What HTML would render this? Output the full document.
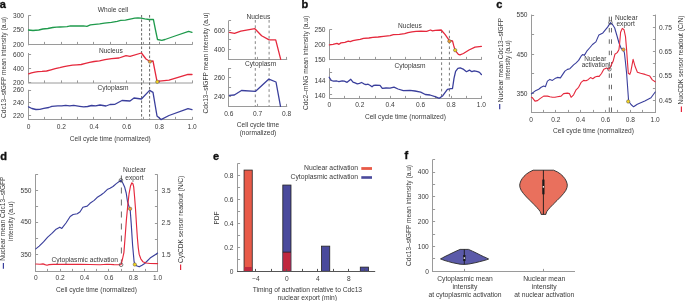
<!DOCTYPE html>
<html><head><meta charset="utf-8"><style>
html,body{margin:0;padding:0;background:#fff;}
body{width:685px;height:301px;overflow:hidden;}
svg{display:block;font-family:"Liberation Sans",sans-serif;will-change:transform;}
</style></head><body>
<svg width="685" height="301" viewBox="0 0 685 301">
<rect width="685" height="301" fill="#fff"/>
<text x="-0.30" y="7.60" text-anchor="start" font-size="11" font-weight="bold" fill="#111" stroke="#111" stroke-width="0.35">a</text>
<line x1="28.50" y1="15.30" x2="28.50" y2="45.30" stroke="#9a9a9a" stroke-width="1"/>
<line x1="28.50" y1="15.50" x2="31.10" y2="15.50" stroke="#9a9a9a" stroke-width="1"/>
<line x1="28.50" y1="30.50" x2="31.10" y2="30.50" stroke="#9a9a9a" stroke-width="1"/>
<line x1="28.50" y1="44.50" x2="31.10" y2="44.50" stroke="#9a9a9a" stroke-width="1"/>
<text x="24.00" y="17.65" text-anchor="end" font-size="6.6" fill="#3a3a3a">300</text>
<text x="24.00" y="32.35" text-anchor="end" font-size="6.6" fill="#3a3a3a">250</text>
<text x="24.00" y="47.15" text-anchor="end" font-size="6.6" fill="#3a3a3a">200</text>
<line x1="28.00" y1="44.50" x2="192.70" y2="44.50" stroke="#9a9a9a" stroke-width="1"/>
<line x1="28.50" y1="44.50" x2="28.50" y2="41.90" stroke="#9a9a9a" stroke-width="1"/>
<line x1="44.50" y1="44.50" x2="44.50" y2="41.90" stroke="#9a9a9a" stroke-width="1"/>
<line x1="61.50" y1="44.50" x2="61.50" y2="41.90" stroke="#9a9a9a" stroke-width="1"/>
<line x1="77.50" y1="44.50" x2="77.50" y2="41.90" stroke="#9a9a9a" stroke-width="1"/>
<line x1="93.50" y1="44.50" x2="93.50" y2="41.90" stroke="#9a9a9a" stroke-width="1"/>
<line x1="110.50" y1="44.50" x2="110.50" y2="41.90" stroke="#9a9a9a" stroke-width="1"/>
<line x1="126.50" y1="44.50" x2="126.50" y2="41.90" stroke="#9a9a9a" stroke-width="1"/>
<line x1="143.50" y1="44.50" x2="143.50" y2="41.90" stroke="#9a9a9a" stroke-width="1"/>
<line x1="159.50" y1="44.50" x2="159.50" y2="41.90" stroke="#9a9a9a" stroke-width="1"/>
<line x1="175.50" y1="44.50" x2="175.50" y2="41.90" stroke="#9a9a9a" stroke-width="1"/>
<line x1="192.50" y1="44.50" x2="192.50" y2="41.90" stroke="#9a9a9a" stroke-width="1"/>
<line x1="28.50" y1="53.00" x2="28.50" y2="83.10" stroke="#9a9a9a" stroke-width="1"/>
<line x1="28.50" y1="54.50" x2="31.10" y2="54.50" stroke="#9a9a9a" stroke-width="1"/>
<line x1="28.50" y1="68.50" x2="31.10" y2="68.50" stroke="#9a9a9a" stroke-width="1"/>
<line x1="28.50" y1="82.50" x2="31.10" y2="82.50" stroke="#9a9a9a" stroke-width="1"/>
<text x="24.00" y="56.65" text-anchor="end" font-size="6.6" fill="#3a3a3a">600</text>
<text x="24.00" y="70.75" text-anchor="end" font-size="6.6" fill="#3a3a3a">400</text>
<text x="24.00" y="84.75" text-anchor="end" font-size="6.6" fill="#3a3a3a">200</text>
<line x1="28.00" y1="83.00" x2="192.70" y2="83.00" stroke="#9a9a9a" stroke-width="1"/>
<line x1="28.50" y1="83.00" x2="28.50" y2="80.40" stroke="#9a9a9a" stroke-width="1"/>
<line x1="44.50" y1="83.00" x2="44.50" y2="80.40" stroke="#9a9a9a" stroke-width="1"/>
<line x1="61.50" y1="83.00" x2="61.50" y2="80.40" stroke="#9a9a9a" stroke-width="1"/>
<line x1="77.50" y1="83.00" x2="77.50" y2="80.40" stroke="#9a9a9a" stroke-width="1"/>
<line x1="93.50" y1="83.00" x2="93.50" y2="80.40" stroke="#9a9a9a" stroke-width="1"/>
<line x1="110.50" y1="83.00" x2="110.50" y2="80.40" stroke="#9a9a9a" stroke-width="1"/>
<line x1="126.50" y1="83.00" x2="126.50" y2="80.40" stroke="#9a9a9a" stroke-width="1"/>
<line x1="143.50" y1="83.00" x2="143.50" y2="80.40" stroke="#9a9a9a" stroke-width="1"/>
<line x1="159.50" y1="83.00" x2="159.50" y2="80.40" stroke="#9a9a9a" stroke-width="1"/>
<line x1="175.50" y1="83.00" x2="175.50" y2="80.40" stroke="#9a9a9a" stroke-width="1"/>
<line x1="192.50" y1="83.00" x2="192.50" y2="80.40" stroke="#9a9a9a" stroke-width="1"/>
<line x1="28.50" y1="89.80" x2="28.50" y2="119.80" stroke="#9a9a9a" stroke-width="1"/>
<line x1="28.50" y1="90.50" x2="31.10" y2="90.50" stroke="#9a9a9a" stroke-width="1"/>
<line x1="28.50" y1="102.50" x2="31.10" y2="102.50" stroke="#9a9a9a" stroke-width="1"/>
<line x1="28.50" y1="115.50" x2="31.10" y2="115.50" stroke="#9a9a9a" stroke-width="1"/>
<text x="24.00" y="92.35" text-anchor="end" font-size="6.6" fill="#3a3a3a">260</text>
<text x="24.00" y="104.95" text-anchor="end" font-size="6.6" fill="#3a3a3a">240</text>
<text x="24.00" y="117.65" text-anchor="end" font-size="6.6" fill="#3a3a3a">220</text>
<line x1="28.00" y1="119.50" x2="192.70" y2="119.50" stroke="#9a9a9a" stroke-width="1"/>
<line x1="28.50" y1="119.50" x2="28.50" y2="116.90" stroke="#9a9a9a" stroke-width="1"/>
<line x1="44.50" y1="119.50" x2="44.50" y2="116.90" stroke="#9a9a9a" stroke-width="1"/>
<line x1="61.50" y1="119.50" x2="61.50" y2="116.90" stroke="#9a9a9a" stroke-width="1"/>
<line x1="77.50" y1="119.50" x2="77.50" y2="116.90" stroke="#9a9a9a" stroke-width="1"/>
<line x1="93.50" y1="119.50" x2="93.50" y2="116.90" stroke="#9a9a9a" stroke-width="1"/>
<line x1="110.50" y1="119.50" x2="110.50" y2="116.90" stroke="#9a9a9a" stroke-width="1"/>
<line x1="126.50" y1="119.50" x2="126.50" y2="116.90" stroke="#9a9a9a" stroke-width="1"/>
<line x1="143.50" y1="119.50" x2="143.50" y2="116.90" stroke="#9a9a9a" stroke-width="1"/>
<line x1="159.50" y1="119.50" x2="159.50" y2="116.90" stroke="#9a9a9a" stroke-width="1"/>
<line x1="175.50" y1="119.50" x2="175.50" y2="116.90" stroke="#9a9a9a" stroke-width="1"/>
<line x1="192.50" y1="119.50" x2="192.50" y2="116.90" stroke="#9a9a9a" stroke-width="1"/>
<text x="28.50" y="129.00" text-anchor="middle" font-size="6.6" fill="#3a3a3a">0</text>
<text x="61.24" y="129.00" text-anchor="middle" font-size="6.6" fill="#3a3a3a">0.2</text>
<text x="93.98" y="129.00" text-anchor="middle" font-size="6.6" fill="#3a3a3a">0.4</text>
<text x="126.72" y="129.00" text-anchor="middle" font-size="6.6" fill="#3a3a3a">0.6</text>
<text x="159.46" y="129.00" text-anchor="middle" font-size="6.6" fill="#3a3a3a">0.8</text>
<text x="192.20" y="129.00" text-anchor="middle" font-size="6.6" fill="#3a3a3a">1.0</text>
<text x="110.30" y="140.70" text-anchor="middle" font-size="6.6" fill="#3a3a3a">Cell cycle time (normalized)</text>
<text x="113.00" y="12.00" text-anchor="middle" font-size="6.6" fill="#3a3a3a">Whole cell</text>
<text x="110.80" y="52.60" text-anchor="middle" font-size="6.6" fill="#3a3a3a">Nucleus</text>
<text x="113.00" y="90.30" text-anchor="middle" font-size="6.6" fill="#3a3a3a">Cytoplasm</text>
<text x="6.20" y="67.50" text-anchor="middle" font-size="6.6" fill="#3a3a3a" transform="rotate(-90 6.20 67.50)">Cdc13–sfGFP mean intensity (a.u)</text>
<line x1="141.60" y1="15.00" x2="141.60" y2="119.30" stroke="#444" stroke-width="0.8" stroke-dasharray="2.6 1.9"/>
<line x1="149.60" y1="15.00" x2="149.60" y2="119.30" stroke="#444" stroke-width="0.8" stroke-dasharray="2.6 1.9"/>
<polyline points="28.5,30.0 33.0,30.5 38.8,30.0 42.8,29.0 47.8,28.5 52.8,27.5 56.5,27.2 60.0,27.0 67.0,26.6 70.5,25.8 77.5,26.0 83.4,25.8 86.9,26.4 90.4,24.9 95.0,24.4 99.7,23.9 104.4,23.1 111.4,22.3 117.2,21.3 120.7,20.4 125.4,20.2 130.1,19.2 134.8,18.1 138.0,17.8 141.0,18.1 144.8,18.9 149.0,19.5 153.4,19.5 155.5,30.0 157.5,39.5 161.8,40.4 165.0,39.5 175.0,36.0 188.6,31.3 192.0,32.3" fill="none" stroke="#1f9a4c" stroke-width="1.3" stroke-linejoin="round" stroke-linecap="round"/>
<polyline points="28.6,73.8 31.5,72.8 34.9,72.1 38.0,71.6 42.0,71.4 46.6,71.0 51.0,69.8 55.2,68.6 59.8,67.6 63.9,66.6 68.0,65.8 72.5,65.1 77.0,64.8 81.2,64.5 85.5,63.4 89.6,62.4 94.1,61.5 99.5,60.8 105.0,59.7 111.6,58.7 119.0,58.0 126.0,55.6 130.0,56.3 141.4,53.0 146.0,59.0 150.0,61.5 153.0,61.0 157.0,81.4 169.0,80.2 188.0,74.3 192.0,74.5" fill="none" stroke="#e5283c" stroke-width="1.3" stroke-linejoin="round" stroke-linecap="round"/>
<polyline points="28.5,106.9 31.9,108.5 35.9,109.5 39.8,109.3 43.8,108.3 48.8,107.5 51.8,106.3 57.8,105.9 61.8,105.9 65.7,105.3 69.7,105.9 73.7,105.3 79.7,106.3 83.7,106.9 87.6,106.5 91.6,105.5 95.6,105.9 100.0,105.0 106.0,106.0 110.0,104.5 115.0,104.3 122.0,100.5 130.0,101.0 134.0,98.0 141.4,99.0 149.6,90.4 153.0,92.4 157.0,116.0 161.0,119.6 169.0,115.5 188.0,108.6 192.0,109.6" fill="none" stroke="#3a3f9c" stroke-width="1.3" stroke-linejoin="round" stroke-linecap="round"/>
<circle cx="149.9" cy="61.6" r="1.7" fill="#f0a030" stroke="#555" stroke-width="0.5"/>
<circle cx="157.3" cy="81.8" r="1.7" fill="#f2d21e" stroke="#555" stroke-width="0.5"/>
<line x1="228.50" y1="20.80" x2="228.50" y2="59.90" stroke="#9a9a9a" stroke-width="1"/>
<line x1="228.50" y1="20.50" x2="231.10" y2="20.50" stroke="#9a9a9a" stroke-width="1"/>
<line x1="228.50" y1="30.50" x2="231.10" y2="30.50" stroke="#9a9a9a" stroke-width="1"/>
<line x1="228.50" y1="39.50" x2="231.10" y2="39.50" stroke="#9a9a9a" stroke-width="1"/>
<line x1="228.50" y1="49.50" x2="231.10" y2="49.50" stroke="#9a9a9a" stroke-width="1"/>
<text x="225.00" y="32.95" text-anchor="end" font-size="6.6" fill="#3a3a3a">600</text>
<text x="225.00" y="51.95" text-anchor="end" font-size="6.6" fill="#3a3a3a">400</text>
<line x1="228.00" y1="59.50" x2="287.20" y2="59.50" stroke="#9a9a9a" stroke-width="1"/>
<line x1="228.50" y1="59.50" x2="228.50" y2="56.90" stroke="#9a9a9a" stroke-width="1"/>
<line x1="257.50" y1="59.50" x2="257.50" y2="56.90" stroke="#9a9a9a" stroke-width="1"/>
<line x1="286.50" y1="59.50" x2="286.50" y2="56.90" stroke="#9a9a9a" stroke-width="1"/>
<line x1="228.50" y1="68.00" x2="228.50" y2="106.70" stroke="#9a9a9a" stroke-width="1"/>
<line x1="228.50" y1="68.50" x2="231.10" y2="68.50" stroke="#9a9a9a" stroke-width="1"/>
<line x1="228.50" y1="77.50" x2="231.10" y2="77.50" stroke="#9a9a9a" stroke-width="1"/>
<line x1="228.50" y1="87.50" x2="231.10" y2="87.50" stroke="#9a9a9a" stroke-width="1"/>
<line x1="228.50" y1="96.50" x2="231.10" y2="96.50" stroke="#9a9a9a" stroke-width="1"/>
<text x="225.00" y="79.95" text-anchor="end" font-size="6.6" fill="#3a3a3a">260</text>
<text x="225.00" y="99.25" text-anchor="end" font-size="6.6" fill="#3a3a3a">240</text>
<line x1="228.00" y1="106.50" x2="287.20" y2="106.50" stroke="#9a9a9a" stroke-width="1"/>
<line x1="228.50" y1="106.50" x2="228.50" y2="103.90" stroke="#9a9a9a" stroke-width="1"/>
<line x1="257.50" y1="106.50" x2="257.50" y2="103.90" stroke="#9a9a9a" stroke-width="1"/>
<line x1="286.50" y1="106.50" x2="286.50" y2="103.90" stroke="#9a9a9a" stroke-width="1"/>
<text x="228.80" y="116.30" text-anchor="middle" font-size="6.6" fill="#3a3a3a">0.6</text>
<text x="257.70" y="116.30" text-anchor="middle" font-size="6.6" fill="#3a3a3a">0.7</text>
<text x="286.70" y="116.30" text-anchor="middle" font-size="6.6" fill="#3a3a3a">0.8</text>
<text x="258.30" y="18.60" text-anchor="middle" font-size="6.6" fill="#3a3a3a">Nucleus</text>
<text x="260.60" y="66.30" text-anchor="middle" font-size="6.6" fill="#3a3a3a">Cytoplasm</text>
<text x="258.00" y="127.40" text-anchor="middle" font-size="6.6" fill="#3a3a3a">Cell cycle time</text>
<text x="258.00" y="135.00" text-anchor="middle" font-size="6.6" fill="#3a3a3a">(normalized)</text>
<text x="207.80" y="63.00" text-anchor="middle" font-size="6.6" fill="#3a3a3a" transform="rotate(-90 207.80 63.00)">Cdc13–sfGFP mean intensity (a.u)</text>
<line x1="255.30" y1="20.00" x2="255.30" y2="59.30" stroke="#666" stroke-width="0.8" stroke-dasharray="2.7 2.6"/>
<line x1="255.30" y1="68.00" x2="255.30" y2="106.30" stroke="#666" stroke-width="0.8" stroke-dasharray="2.7 2.6"/>
<line x1="269.10" y1="20.00" x2="269.10" y2="59.30" stroke="#666" stroke-width="0.8" stroke-dasharray="2.7 2.6"/>
<line x1="269.10" y1="68.00" x2="269.10" y2="106.30" stroke="#666" stroke-width="0.8" stroke-dasharray="2.7 2.6"/>
<polyline points="229.4,32.4 234.5,33.4 240.8,31.2 254.9,28.7 261.6,35.8 269.1,39.9 275.7,39.9 280.7,59.3" fill="none" stroke="#e5283c" stroke-width="1.3" stroke-linejoin="round" stroke-linecap="round"/>
<polyline points="229.4,95.3 234.3,95.0 241.5,90.5 255.6,91.3 268.9,79.1 276.0,82.0 280.5,106.3" fill="none" stroke="#3a3f9c" stroke-width="1.3" stroke-linejoin="round" stroke-linecap="round"/>
<text x="301.60" y="7.60" text-anchor="start" font-size="11" font-weight="bold" fill="#111" stroke="#111" stroke-width="0.35">b</text>
<line x1="329.50" y1="29.50" x2="329.50" y2="60.10" stroke="#9a9a9a" stroke-width="1"/>
<line x1="329.50" y1="29.50" x2="332.10" y2="29.50" stroke="#9a9a9a" stroke-width="1"/>
<line x1="329.50" y1="44.50" x2="332.10" y2="44.50" stroke="#9a9a9a" stroke-width="1"/>
<line x1="329.50" y1="59.50" x2="332.10" y2="59.50" stroke="#9a9a9a" stroke-width="1"/>
<text x="325.50" y="31.85" text-anchor="end" font-size="6.6" fill="#3a3a3a">250</text>
<text x="325.50" y="46.75" text-anchor="end" font-size="6.6" fill="#3a3a3a">200</text>
<text x="325.50" y="61.95" text-anchor="end" font-size="6.6" fill="#3a3a3a">150</text>
<line x1="329.00" y1="59.50" x2="481.90" y2="59.50" stroke="#9a9a9a" stroke-width="1"/>
<line x1="329.50" y1="59.50" x2="329.50" y2="56.90" stroke="#9a9a9a" stroke-width="1"/>
<line x1="344.50" y1="59.50" x2="344.50" y2="56.90" stroke="#9a9a9a" stroke-width="1"/>
<line x1="359.50" y1="59.50" x2="359.50" y2="56.90" stroke="#9a9a9a" stroke-width="1"/>
<line x1="375.50" y1="59.50" x2="375.50" y2="56.90" stroke="#9a9a9a" stroke-width="1"/>
<line x1="390.50" y1="59.50" x2="390.50" y2="56.90" stroke="#9a9a9a" stroke-width="1"/>
<line x1="405.50" y1="59.50" x2="405.50" y2="56.90" stroke="#9a9a9a" stroke-width="1"/>
<line x1="420.50" y1="59.50" x2="420.50" y2="56.90" stroke="#9a9a9a" stroke-width="1"/>
<line x1="435.50" y1="59.50" x2="435.50" y2="56.90" stroke="#9a9a9a" stroke-width="1"/>
<line x1="451.50" y1="59.50" x2="451.50" y2="56.90" stroke="#9a9a9a" stroke-width="1"/>
<line x1="466.50" y1="59.50" x2="466.50" y2="56.90" stroke="#9a9a9a" stroke-width="1"/>
<line x1="481.50" y1="59.50" x2="481.50" y2="56.90" stroke="#9a9a9a" stroke-width="1"/>
<line x1="329.50" y1="68.20" x2="329.50" y2="99.00" stroke="#9a9a9a" stroke-width="1"/>
<line x1="329.50" y1="72.50" x2="332.10" y2="72.50" stroke="#9a9a9a" stroke-width="1"/>
<line x1="329.50" y1="80.50" x2="332.10" y2="80.50" stroke="#9a9a9a" stroke-width="1"/>
<line x1="329.50" y1="87.50" x2="332.10" y2="87.50" stroke="#9a9a9a" stroke-width="1"/>
<line x1="329.50" y1="94.50" x2="332.10" y2="94.50" stroke="#9a9a9a" stroke-width="1"/>
<text x="325.50" y="83.05" text-anchor="end" font-size="6.6" fill="#3a3a3a">144</text>
<text x="325.50" y="97.85" text-anchor="end" font-size="6.6" fill="#3a3a3a">140</text>
<line x1="329.00" y1="98.50" x2="481.90" y2="98.50" stroke="#9a9a9a" stroke-width="1"/>
<line x1="329.50" y1="98.50" x2="329.50" y2="95.90" stroke="#9a9a9a" stroke-width="1"/>
<line x1="344.50" y1="98.50" x2="344.50" y2="95.90" stroke="#9a9a9a" stroke-width="1"/>
<line x1="359.50" y1="98.50" x2="359.50" y2="95.90" stroke="#9a9a9a" stroke-width="1"/>
<line x1="375.50" y1="98.50" x2="375.50" y2="95.90" stroke="#9a9a9a" stroke-width="1"/>
<line x1="390.50" y1="98.50" x2="390.50" y2="95.90" stroke="#9a9a9a" stroke-width="1"/>
<line x1="405.50" y1="98.50" x2="405.50" y2="95.90" stroke="#9a9a9a" stroke-width="1"/>
<line x1="420.50" y1="98.50" x2="420.50" y2="95.90" stroke="#9a9a9a" stroke-width="1"/>
<line x1="435.50" y1="98.50" x2="435.50" y2="95.90" stroke="#9a9a9a" stroke-width="1"/>
<line x1="451.50" y1="98.50" x2="451.50" y2="95.90" stroke="#9a9a9a" stroke-width="1"/>
<line x1="466.50" y1="98.50" x2="466.50" y2="95.90" stroke="#9a9a9a" stroke-width="1"/>
<line x1="481.50" y1="98.50" x2="481.50" y2="95.90" stroke="#9a9a9a" stroke-width="1"/>
<text x="329.40" y="107.00" text-anchor="middle" font-size="6.6" fill="#3a3a3a">0</text>
<text x="359.80" y="107.00" text-anchor="middle" font-size="6.6" fill="#3a3a3a">0.2</text>
<text x="390.20" y="107.00" text-anchor="middle" font-size="6.6" fill="#3a3a3a">0.4</text>
<text x="420.60" y="107.00" text-anchor="middle" font-size="6.6" fill="#3a3a3a">0.6</text>
<text x="451.00" y="107.00" text-anchor="middle" font-size="6.6" fill="#3a3a3a">0.8</text>
<text x="481.40" y="107.00" text-anchor="middle" font-size="6.6" fill="#3a3a3a">1.0</text>
<text x="405.40" y="118.70" text-anchor="middle" font-size="6.6" fill="#3a3a3a">Cell cycle time (normalized)</text>
<text x="409.90" y="28.20" text-anchor="middle" font-size="6.6" fill="#3a3a3a">Nucleus</text>
<text x="410.00" y="67.90" text-anchor="middle" font-size="6.6" fill="#3a3a3a">Cytoplasm</text>
<text x="308.20" y="63.00" text-anchor="middle" font-size="6.6" fill="#3a3a3a" transform="rotate(-90 308.20 63.00)">Cdc2–mNG mean intensity (a.u)</text>
<line x1="441.60" y1="30.50" x2="441.60" y2="98.50" stroke="#555" stroke-width="0.8" stroke-dasharray="2.6 2.7"/>
<line x1="449.40" y1="30.50" x2="449.40" y2="98.50" stroke="#555" stroke-width="0.8" stroke-dasharray="2.6 2.7"/>
<polyline points="329.4,44.9 333.0,44.3 337.0,43.3 339.0,44.3 341.0,42.9 344.9,42.3 348.3,41.2 350.2,41.6 352.9,40.7 356.9,39.9 360.2,39.4 363.5,38.3 368.9,38.0 372.8,37.4 378.2,37.0 383.5,36.4 390.1,35.6 393.4,34.6 399.4,34.3 404.7,33.6 408.0,32.6 412.0,31.9 416.0,31.3 421.0,31.2 426.6,31.3 430.5,30.0 432.5,30.9 435.2,30.4 441.2,30.0 445.2,34.6 448.5,39.3 449.5,41.0 451.1,40.6 452.5,40.8 453.8,45.9 455.1,50.3 458.4,54.3 460.0,54.8 463.4,53.5 469.0,50.0 475.0,47.2 481.4,46.3" fill="none" stroke="#e5283c" stroke-width="1.3" stroke-linejoin="round" stroke-linecap="round"/>
<polyline points="329.2,77.3 331.4,80.5 333.5,81.2 336.8,81.0 338.9,81.6 342.2,80.8 344.3,81.2 347.1,82.3 349.3,80.5 350.8,79.3 353.0,82.1 355.1,82.9 357.3,83.8 359.5,83.4 361.6,82.5 363.8,83.8 365.9,84.6 368.1,84.2 370.3,85.5 372.0,86.8 373.5,85.5 375.7,85.1 380.0,85.3 382.3,88.3 386.0,88.0 390.0,88.2 394.0,87.1 398.0,89.0 403.3,90.6 410.0,90.4 415.0,91.0 420.7,92.2 425.3,94.5 430.0,95.0 435.8,96.9 439.3,98.3 442.8,95.7 447.4,89.4 450.9,88.7 452.5,88.5 454.0,78.3 455.6,71.3 457.9,68.3 460.2,67.8 463.7,69.4 466.5,71.7 469.5,70.1 471.9,71.7 474.2,70.8 477.7,71.7 479.5,72.4 481.4,74.5" fill="none" stroke="#3a3f9c" stroke-width="1.3" stroke-linejoin="round" stroke-linecap="round"/>
<circle cx="449.4" cy="41.2" r="1.7" fill="#f0a030" stroke="#555" stroke-width="0.5"/>
<circle cx="455.2" cy="50.2" r="1.7" fill="#f2d21e" stroke="#555" stroke-width="0.5"/>
<text x="496.30" y="7.60" text-anchor="start" font-size="11" font-weight="bold" fill="#111" stroke="#111" stroke-width="0.35">c</text>
<line x1="531.50" y1="14.60" x2="531.50" y2="112.80" stroke="#9a9a9a" stroke-width="1"/>
<line x1="531.50" y1="15.50" x2="534.10" y2="15.50" stroke="#9a9a9a" stroke-width="1"/>
<line x1="531.50" y1="34.50" x2="534.10" y2="34.50" stroke="#9a9a9a" stroke-width="1"/>
<line x1="531.50" y1="54.50" x2="534.10" y2="54.50" stroke="#9a9a9a" stroke-width="1"/>
<line x1="531.50" y1="73.50" x2="534.10" y2="73.50" stroke="#9a9a9a" stroke-width="1"/>
<line x1="531.50" y1="93.50" x2="534.10" y2="93.50" stroke="#9a9a9a" stroke-width="1"/>
<text x="527.50" y="17.45" text-anchor="end" font-size="6.6" fill="#3a3a3a">550</text>
<text x="527.50" y="56.55" text-anchor="end" font-size="6.6" fill="#3a3a3a">450</text>
<text x="527.50" y="95.55" text-anchor="end" font-size="6.6" fill="#3a3a3a">350</text>
<line x1="655.50" y1="14.60" x2="655.50" y2="112.80" stroke="#9a9a9a" stroke-width="1"/>
<line x1="652.90" y1="15.50" x2="655.50" y2="15.50" stroke="#9a9a9a" stroke-width="1"/>
<line x1="652.90" y1="27.50" x2="655.50" y2="27.50" stroke="#9a9a9a" stroke-width="1"/>
<line x1="652.90" y1="39.50" x2="655.50" y2="39.50" stroke="#9a9a9a" stroke-width="1"/>
<line x1="652.90" y1="51.50" x2="655.50" y2="51.50" stroke="#9a9a9a" stroke-width="1"/>
<line x1="652.90" y1="63.50" x2="655.50" y2="63.50" stroke="#9a9a9a" stroke-width="1"/>
<line x1="652.90" y1="76.50" x2="655.50" y2="76.50" stroke="#9a9a9a" stroke-width="1"/>
<line x1="652.90" y1="88.50" x2="655.50" y2="88.50" stroke="#9a9a9a" stroke-width="1"/>
<line x1="652.90" y1="100.50" x2="655.50" y2="100.50" stroke="#9a9a9a" stroke-width="1"/>
<text x="659.00" y="29.65" text-anchor="start" font-size="6.6" fill="#3a3a3a">0.75</text>
<text x="659.00" y="53.95" text-anchor="start" font-size="6.6" fill="#3a3a3a">0.65</text>
<text x="659.00" y="78.35" text-anchor="start" font-size="6.6" fill="#3a3a3a">0.55</text>
<text x="659.00" y="102.75" text-anchor="start" font-size="6.6" fill="#3a3a3a">0.45</text>
<line x1="531.00" y1="112.50" x2="655.70" y2="112.50" stroke="#9a9a9a" stroke-width="1"/>
<line x1="531.50" y1="112.50" x2="531.50" y2="109.90" stroke="#9a9a9a" stroke-width="1"/>
<line x1="543.50" y1="112.50" x2="543.50" y2="109.90" stroke="#9a9a9a" stroke-width="1"/>
<line x1="555.50" y1="112.50" x2="555.50" y2="109.90" stroke="#9a9a9a" stroke-width="1"/>
<line x1="568.50" y1="112.50" x2="568.50" y2="109.90" stroke="#9a9a9a" stroke-width="1"/>
<line x1="580.50" y1="112.50" x2="580.50" y2="109.90" stroke="#9a9a9a" stroke-width="1"/>
<line x1="593.50" y1="112.50" x2="593.50" y2="109.90" stroke="#9a9a9a" stroke-width="1"/>
<line x1="605.50" y1="112.50" x2="605.50" y2="109.90" stroke="#9a9a9a" stroke-width="1"/>
<line x1="617.50" y1="112.50" x2="617.50" y2="109.90" stroke="#9a9a9a" stroke-width="1"/>
<line x1="630.50" y1="112.50" x2="630.50" y2="109.90" stroke="#9a9a9a" stroke-width="1"/>
<line x1="642.50" y1="112.50" x2="642.50" y2="109.90" stroke="#9a9a9a" stroke-width="1"/>
<line x1="655.50" y1="112.50" x2="655.50" y2="109.90" stroke="#9a9a9a" stroke-width="1"/>
<text x="531.00" y="121.90" text-anchor="middle" font-size="6.6" fill="#3a3a3a">0</text>
<text x="555.84" y="121.90" text-anchor="middle" font-size="6.6" fill="#3a3a3a">0.2</text>
<text x="580.68" y="121.90" text-anchor="middle" font-size="6.6" fill="#3a3a3a">0.4</text>
<text x="605.52" y="121.90" text-anchor="middle" font-size="6.6" fill="#3a3a3a">0.6</text>
<text x="630.36" y="121.90" text-anchor="middle" font-size="6.6" fill="#3a3a3a">0.8</text>
<text x="655.20" y="121.90" text-anchor="middle" font-size="6.6" fill="#3a3a3a">1.0</text>
<text x="593.50" y="133.00" text-anchor="middle" font-size="6.6" fill="#3a3a3a">Cell cycle time (normalized)</text>
<text x="502.60" y="60.00" text-anchor="middle" font-size="6.6" fill="#3a3a3a" transform="rotate(-90 502.60 60.00)">Nuclear mean Cdc13–sfGFP</text>
<text x="510.40" y="60.00" text-anchor="middle" font-size="6.6" fill="#3a3a3a" transform="rotate(-90 510.40 60.00)">intensity (a.u)</text>
<text x="683.20" y="60.00" text-anchor="middle" font-size="6.6" fill="#3a3a3a" transform="rotate(-90 683.20 60.00)">NucCDK sensor readout (C/N)</text>
<line x1="681.40" y1="106.60" x2="681.40" y2="112.00" stroke="#e5283c" stroke-width="1.2"/>
<line x1="499.70" y1="103.90" x2="499.70" y2="109.20" stroke="#3a3f9c" stroke-width="1.2"/>
<line x1="609.30" y1="16.60" x2="609.30" y2="112.30" stroke="#444" stroke-width="0.8" stroke-dasharray="4.5 6.86"/>
<line x1="611.50" y1="16.60" x2="611.50" y2="112.30" stroke="#444" stroke-width="0.8" stroke-dasharray="4.5 6.86"/>
<polyline points="531.4,93.8 535.0,91.1 538.7,89.3 541.2,87.3 543.7,86.1 545.4,86.8 547.4,81.1 549.9,79.4 552.4,80.4 554.9,78.6 557.4,77.4 560.4,77.9 562.4,74.9 564.9,71.1 567.4,69.4 569.9,68.7 573.6,64.9 576.1,62.9 578.6,60.4 581.1,56.2 582.8,54.5 584.3,55.4 586.8,51.2 590.0,47.5 592.5,44.5 595.9,41.9 598.9,34.9 602.9,32.9 607.8,26.9 610.4,22.6 612.5,24.5 614.7,28.0 616.9,35.5 619.0,43.0 621.2,48.5 623.4,49.6 624.4,52.8 625.5,62.5 626.6,73.3 628.6,101.0 631.0,104.5 633.6,106.8 637.3,104.3 644.8,101.0 651.0,97.8 655.2,92.0" fill="none" stroke="#3a3f9c" stroke-width="1.1" stroke-linejoin="round" stroke-linecap="round"/>
<polyline points="531.4,97.3 532.5,97.8 535.0,101.1 537.5,100.6 540.0,98.6 543.7,96.1 547.4,96.1 549.9,96.8 552.4,97.3 554.9,97.3 557.4,96.8 561.1,96.1 563.6,93.6 567.4,93.1 569.4,93.6 571.1,97.3 573.6,94.8 576.1,89.8 578.6,87.3 581.1,82.4 583.6,80.4 586.0,80.8 588.1,79.7 590.5,77.6 592.8,78.7 595.1,77.0 597.4,76.2 599.2,76.4 601.5,73.5 603.8,69.2 606.7,68.0 609.1,69.2 610.8,65.9 613.1,61.3 614.9,54.3 617.2,52.6 618.9,49.7 619.5,45.0 620.6,32.3 622.3,28.4 624.0,29.7 625.5,36.6 626.6,49.6 627.5,62.5 628.3,73.3 629.8,74.4 630.9,71.2 633.1,59.3 635.2,66.8 637.4,72.2 640.6,73.3 645.0,74.4 649.8,76.1 652.3,79.9 655.2,81.8" fill="none" stroke="#e5283c" stroke-width="1.1" stroke-linejoin="round" stroke-linecap="round"/>
<circle cx="610.4" cy="22.6" r="1.8" fill="none" stroke="#444" stroke-width="0.7"/>
<circle cx="609.4" cy="69.2" r="1.8" fill="none" stroke="#444" stroke-width="0.7"/>
<circle cx="623.4" cy="49.6" r="1.7" fill="#f0a030" stroke="#555" stroke-width="0.5"/>
<circle cx="628.2" cy="101.5" r="1.7" fill="#f2d21e" stroke="#555" stroke-width="0.5"/>
<text x="626.30" y="19.70" text-anchor="middle" font-size="6.6" fill="#3a3a3a">Nuclear</text>
<text x="625.60" y="26.30" text-anchor="middle" font-size="6.6" fill="#3a3a3a">export</text>
<text x="595.30" y="60.70" text-anchor="middle" font-size="6.4" fill="#3a3a3a">Nuclear</text>
<text x="595.20" y="67.00" text-anchor="middle" font-size="6.4" fill="#3a3a3a">activation</text>
<text x="0.20" y="159.50" text-anchor="start" font-size="11" font-weight="bold" fill="#111" stroke="#111" stroke-width="0.35">d</text>
<line x1="35.50" y1="174.30" x2="35.50" y2="271.80" stroke="#9a9a9a" stroke-width="1"/>
<line x1="35.50" y1="174.50" x2="38.10" y2="174.50" stroke="#9a9a9a" stroke-width="1"/>
<line x1="35.50" y1="190.50" x2="38.10" y2="190.50" stroke="#9a9a9a" stroke-width="1"/>
<line x1="35.50" y1="206.50" x2="38.10" y2="206.50" stroke="#9a9a9a" stroke-width="1"/>
<line x1="35.50" y1="222.50" x2="38.10" y2="222.50" stroke="#9a9a9a" stroke-width="1"/>
<line x1="35.50" y1="238.50" x2="38.10" y2="238.50" stroke="#9a9a9a" stroke-width="1"/>
<line x1="35.50" y1="254.50" x2="38.10" y2="254.50" stroke="#9a9a9a" stroke-width="1"/>
<text x="31.50" y="192.55" text-anchor="end" font-size="6.6" fill="#3a3a3a">550</text>
<text x="31.50" y="224.45" text-anchor="end" font-size="6.6" fill="#3a3a3a">450</text>
<text x="31.50" y="257.05" text-anchor="end" font-size="6.6" fill="#3a3a3a">350</text>
<line x1="157.50" y1="174.30" x2="157.50" y2="271.80" stroke="#9a9a9a" stroke-width="1"/>
<line x1="154.90" y1="174.50" x2="157.50" y2="174.50" stroke="#9a9a9a" stroke-width="1"/>
<line x1="154.90" y1="190.50" x2="157.50" y2="190.50" stroke="#9a9a9a" stroke-width="1"/>
<line x1="154.90" y1="206.50" x2="157.50" y2="206.50" stroke="#9a9a9a" stroke-width="1"/>
<line x1="154.90" y1="223.50" x2="157.50" y2="223.50" stroke="#9a9a9a" stroke-width="1"/>
<line x1="154.90" y1="239.50" x2="157.50" y2="239.50" stroke="#9a9a9a" stroke-width="1"/>
<line x1="154.90" y1="254.50" x2="157.50" y2="254.50" stroke="#9a9a9a" stroke-width="1"/>
<text x="161.50" y="192.95" text-anchor="start" font-size="6.6" fill="#3a3a3a">3.5</text>
<text x="161.50" y="225.45" text-anchor="start" font-size="6.6" fill="#3a3a3a">2.5</text>
<text x="161.50" y="257.15" text-anchor="start" font-size="6.6" fill="#3a3a3a">1.5</text>
<line x1="35.00" y1="271.50" x2="158.10" y2="271.50" stroke="#9a9a9a" stroke-width="1"/>
<line x1="35.50" y1="271.50" x2="35.50" y2="268.90" stroke="#9a9a9a" stroke-width="1"/>
<line x1="47.50" y1="271.50" x2="47.50" y2="268.90" stroke="#9a9a9a" stroke-width="1"/>
<line x1="60.50" y1="271.50" x2="60.50" y2="268.90" stroke="#9a9a9a" stroke-width="1"/>
<line x1="72.50" y1="271.50" x2="72.50" y2="268.90" stroke="#9a9a9a" stroke-width="1"/>
<line x1="84.50" y1="271.50" x2="84.50" y2="268.90" stroke="#9a9a9a" stroke-width="1"/>
<line x1="96.50" y1="271.50" x2="96.50" y2="268.90" stroke="#9a9a9a" stroke-width="1"/>
<line x1="108.50" y1="271.50" x2="108.50" y2="268.90" stroke="#9a9a9a" stroke-width="1"/>
<line x1="121.50" y1="271.50" x2="121.50" y2="268.90" stroke="#9a9a9a" stroke-width="1"/>
<line x1="133.50" y1="271.50" x2="133.50" y2="268.90" stroke="#9a9a9a" stroke-width="1"/>
<line x1="145.50" y1="271.50" x2="145.50" y2="268.90" stroke="#9a9a9a" stroke-width="1"/>
<line x1="157.50" y1="271.50" x2="157.50" y2="268.90" stroke="#9a9a9a" stroke-width="1"/>
<text x="35.80" y="280.20" text-anchor="middle" font-size="6.6" fill="#3a3a3a">0</text>
<text x="60.16" y="280.20" text-anchor="middle" font-size="6.6" fill="#3a3a3a">0.2</text>
<text x="84.52" y="280.20" text-anchor="middle" font-size="6.6" fill="#3a3a3a">0.4</text>
<text x="108.88" y="280.20" text-anchor="middle" font-size="6.6" fill="#3a3a3a">0.6</text>
<text x="133.24" y="280.20" text-anchor="middle" font-size="6.6" fill="#3a3a3a">0.8</text>
<text x="157.60" y="280.20" text-anchor="middle" font-size="6.6" fill="#3a3a3a">1.0</text>
<text x="96.50" y="291.50" text-anchor="middle" font-size="6.6" fill="#3a3a3a">Cell cycle time (normalized)</text>
<text x="4.80" y="218.70" text-anchor="middle" font-size="6.6" fill="#3a3a3a" transform="rotate(-90 4.80 218.70)">Nuclear mean Cdc13–sfGFP</text>
<line x1="3.40" y1="263.00" x2="3.40" y2="268.80" stroke="#3a3f9c" stroke-width="1.2"/>
<text x="12.60" y="221.20" text-anchor="middle" font-size="6.6" fill="#3a3a3a" transform="rotate(-90 12.60 221.20)">intensity (a.u)</text>
<text x="183.40" y="219.30" text-anchor="middle" font-size="6.6" fill="#3a3a3a" transform="rotate(-90 183.40 219.30)">CytCDK sensor readout (N/C)</text>
<line x1="180.60" y1="264.60" x2="180.60" y2="269.90" stroke="#e5283c" stroke-width="1.2"/>
<line x1="121.40" y1="175.50" x2="121.40" y2="263.00" stroke="#444" stroke-width="0.8" stroke-dasharray="6 6"/>
<polyline points="35.8,248.9 39.2,246.1 43.5,241.9 47.7,237.1 51.9,233.4 56.1,229.2 59.8,227.2 61.8,228.4 66.0,223.0 70.2,216.5 73.1,214.5 77.3,213.7 80.1,211.7 82.9,207.2 87.2,206.1 90.0,203.3 94.2,200.4 97.0,197.6 101.3,194.8 104.1,192.6 107.7,189.2 110.0,188.3 113.0,186.5 116.3,183.6 120.9,180.3 122.8,183.0 124.6,186.9 126.2,193.0 127.5,201.5 129.0,206.5 130.1,208.8 131.2,223.4 132.6,245.3 134.1,261.7 134.8,264.3 136.5,265.8 139.2,266.8 142.0,265.2 144.7,263.5 150.1,258.1 155.6,254.4 157.6,253.0" fill="none" stroke="#3a3f9c" stroke-width="1.15" stroke-linejoin="round" stroke-linecap="round"/>
<polyline points="35.8,264.0 40.0,264.2 43.0,263.9 45.0,264.6 47.0,265.2 49.0,264.6 53.0,264.4 60.0,264.2 70.0,264.4 80.0,264.2 90.0,264.5 100.0,264.8 107.0,264.2 114.0,264.6 121.1,264.7 122.5,259.0 123.9,252.6 125.2,236.0 126.4,219.7 127.8,205.0 129.0,194.2 130.5,186.0 131.9,182.8 133.0,184.0 133.7,186.9 134.6,197.0 135.5,208.8 136.5,225.0 137.4,238.0 138.3,248.0 139.2,254.4 140.8,258.8 142.8,261.7 146.0,263.0 150.1,263.5 157.6,263.6" fill="none" stroke="#e5283c" stroke-width="1.15" stroke-linejoin="round" stroke-linecap="round"/>
<circle cx="120.9" cy="180.3" r="1.8" fill="none" stroke="#444" stroke-width="0.7"/>
<circle cx="121.1" cy="264.8" r="1.8" fill="none" stroke="#444" stroke-width="0.7"/>
<circle cx="130.1" cy="208.8" r="1.7" fill="#f0a030" stroke="#555" stroke-width="0.5"/>
<circle cx="134.8" cy="264.5" r="1.7" fill="#f2d21e" stroke="#555" stroke-width="0.5"/>
<text x="134.40" y="172.40" text-anchor="middle" font-size="6.6" fill="#3a3a3a">Nuclear</text>
<text x="134.40" y="180.10" text-anchor="middle" font-size="6.6" fill="#3a3a3a">export</text>
<text x="51.40" y="261.60" text-anchor="start" font-size="6.7" fill="#3a3a3a">Cytoplasmic activation</text>
<text x="212.90" y="160.00" text-anchor="start" font-size="11" font-weight="bold" fill="#111" stroke="#111" stroke-width="0.35">e</text>
<line x1="237.50" y1="163.48" x2="237.50" y2="271.80" stroke="#9a9a9a" stroke-width="1"/>
<line x1="237.50" y1="271.50" x2="240.10" y2="271.50" stroke="#9a9a9a" stroke-width="1"/>
<line x1="237.50" y1="259.50" x2="240.10" y2="259.50" stroke="#9a9a9a" stroke-width="1"/>
<line x1="237.50" y1="247.50" x2="240.10" y2="247.50" stroke="#9a9a9a" stroke-width="1"/>
<line x1="237.50" y1="235.50" x2="240.10" y2="235.50" stroke="#9a9a9a" stroke-width="1"/>
<line x1="237.50" y1="223.50" x2="240.10" y2="223.50" stroke="#9a9a9a" stroke-width="1"/>
<line x1="237.50" y1="211.50" x2="240.10" y2="211.50" stroke="#9a9a9a" stroke-width="1"/>
<line x1="237.50" y1="199.50" x2="240.10" y2="199.50" stroke="#9a9a9a" stroke-width="1"/>
<line x1="237.50" y1="187.50" x2="240.10" y2="187.50" stroke="#9a9a9a" stroke-width="1"/>
<line x1="237.50" y1="175.50" x2="240.10" y2="175.50" stroke="#9a9a9a" stroke-width="1"/>
<line x1="237.50" y1="163.50" x2="240.10" y2="163.50" stroke="#9a9a9a" stroke-width="1"/>
<text x="233.50" y="273.65" text-anchor="end" font-size="6.6" fill="#3a3a3a">0</text>
<text x="233.50" y="249.69" text-anchor="end" font-size="6.6" fill="#3a3a3a">0.2</text>
<text x="233.50" y="225.73" text-anchor="end" font-size="6.6" fill="#3a3a3a">0.4</text>
<text x="233.50" y="201.77" text-anchor="end" font-size="6.6" fill="#3a3a3a">0.6</text>
<text x="233.50" y="177.81" text-anchor="end" font-size="6.6" fill="#3a3a3a">0.8</text>
<rect x="244.05" y="170.07" width="8.2" height="101.23" fill="#e85a48" stroke="#222" stroke-width="0.8"/>
<rect x="244.45" y="266.99" width="7.4" height="4.31" fill="#c0283e"/>
<rect x="282.80" y="185.04" width="8.2" height="86.26" fill="#4a4a9c" stroke="#222" stroke-width="0.8"/>
<rect x="283.20" y="252.13" width="7.4" height="18.77" fill="#c0283e"/>
<line x1="282.80" y1="252.13" x2="291.00" y2="252.13" stroke="#222" stroke-width="0.8"/>
<rect x="321.55" y="246.14" width="8.2" height="25.16" fill="#4a4a9c" stroke="#222" stroke-width="0.8"/>
<rect x="360.30" y="267.11" width="8.2" height="4.19" fill="#4a4a9c" stroke="#222" stroke-width="0.8"/>
<line x1="237.00" y1="271.50" x2="375.20" y2="271.50" stroke="#555" stroke-width="1"/>
<line x1="255.50" y1="271.50" x2="255.50" y2="268.90" stroke="#555" stroke-width="1"/>
<line x1="271.50" y1="271.50" x2="271.50" y2="268.90" stroke="#555" stroke-width="1"/>
<line x1="286.50" y1="271.50" x2="286.50" y2="268.90" stroke="#555" stroke-width="1"/>
<line x1="302.50" y1="271.50" x2="302.50" y2="268.90" stroke="#555" stroke-width="1"/>
<line x1="317.50" y1="271.50" x2="317.50" y2="268.90" stroke="#555" stroke-width="1"/>
<line x1="333.50" y1="271.50" x2="333.50" y2="268.90" stroke="#555" stroke-width="1"/>
<line x1="348.50" y1="271.50" x2="348.50" y2="268.90" stroke="#555" stroke-width="1"/>
<line x1="364.50" y1="271.50" x2="364.50" y2="268.90" stroke="#555" stroke-width="1"/>
<text x="255.90" y="280.60" text-anchor="middle" font-size="6.6" fill="#3a3a3a">−4</text>
<text x="286.90" y="280.60" text-anchor="middle" font-size="6.6" fill="#3a3a3a">0</text>
<text x="317.90" y="280.60" text-anchor="middle" font-size="6.6" fill="#3a3a3a">4</text>
<text x="348.90" y="280.60" text-anchor="middle" font-size="6.6" fill="#3a3a3a">8</text>
<text x="307.40" y="291.60" text-anchor="middle" font-size="6.7" fill="#3a3a3a">Timing of activation relative to Cdc13</text>
<text x="307.30" y="299.60" text-anchor="middle" font-size="6.7" fill="#3a3a3a">nuclear export (min)</text>
<text x="218.80" y="218.00" text-anchor="middle" font-size="6.6" fill="#3a3a3a" transform="rotate(-90 218.80 218.00)">PDF</text>
<text x="358.10" y="170.10" text-anchor="end" font-size="6.8" fill="#3a3a3a">Nuclear activation</text>
<text x="358.10" y="179.00" text-anchor="end" font-size="6.8" fill="#3a3a3a">Cytoplasmic activation</text>
<rect x="361.3" y="167.1" width="10.7" height="2.8" fill="#e85a48"/>
<rect x="361.3" y="176.2" width="10.7" height="2.6" fill="#4a4a9c"/>
<text x="404.60" y="159.30" text-anchor="start" font-size="11" font-weight="bold" fill="#111" stroke="#111" stroke-width="0.35">f</text>
<line x1="432.50" y1="159.70" x2="432.50" y2="271.80" stroke="#9a9a9a" stroke-width="1"/>
<line x1="432.50" y1="271.50" x2="435.10" y2="271.50" stroke="#9a9a9a" stroke-width="1"/>
<line x1="432.50" y1="258.50" x2="435.10" y2="258.50" stroke="#9a9a9a" stroke-width="1"/>
<line x1="432.50" y1="246.50" x2="435.10" y2="246.50" stroke="#9a9a9a" stroke-width="1"/>
<line x1="432.50" y1="234.50" x2="435.10" y2="234.50" stroke="#9a9a9a" stroke-width="1"/>
<line x1="432.50" y1="221.50" x2="435.10" y2="221.50" stroke="#9a9a9a" stroke-width="1"/>
<line x1="432.50" y1="209.50" x2="435.10" y2="209.50" stroke="#9a9a9a" stroke-width="1"/>
<line x1="432.50" y1="196.50" x2="435.10" y2="196.50" stroke="#9a9a9a" stroke-width="1"/>
<line x1="432.50" y1="184.50" x2="435.10" y2="184.50" stroke="#9a9a9a" stroke-width="1"/>
<line x1="432.50" y1="172.50" x2="435.10" y2="172.50" stroke="#9a9a9a" stroke-width="1"/>
<line x1="432.50" y1="159.50" x2="435.10" y2="159.50" stroke="#9a9a9a" stroke-width="1"/>
<text x="428.80" y="273.65" text-anchor="end" font-size="6.6" fill="#3a3a3a">0</text>
<text x="428.80" y="248.85" text-anchor="end" font-size="6.6" fill="#3a3a3a">100</text>
<text x="428.80" y="224.05" text-anchor="end" font-size="6.6" fill="#3a3a3a">200</text>
<text x="428.80" y="199.25" text-anchor="end" font-size="6.6" fill="#3a3a3a">300</text>
<text x="428.80" y="174.45" text-anchor="end" font-size="6.6" fill="#3a3a3a">400</text>
<line x1="432.00" y1="271.50" x2="575.00" y2="271.50" stroke="#9a9a9a" stroke-width="1"/>
<line x1="464.50" y1="271.50" x2="464.50" y2="268.90" stroke="#9a9a9a" stroke-width="1"/>
<line x1="543.50" y1="271.50" x2="543.50" y2="268.90" stroke="#9a9a9a" stroke-width="1"/>
<text x="410.50" y="215.50" text-anchor="middle" font-size="6.6" fill="#3a3a3a" transform="rotate(-90 410.50 215.50)">Cdc13–sfGFP mean intensity (a.u)</text>
<text x="465.00" y="281.00" text-anchor="middle" font-size="6.75" fill="#3a3a3a">Cytoplasmic mean</text>
<text x="465.00" y="288.80" text-anchor="middle" font-size="6.75" fill="#3a3a3a">intensity</text>
<text x="465.00" y="296.90" text-anchor="middle" font-size="6.75" fill="#3a3a3a">at cytoplasmic activation</text>
<text x="544.20" y="281.00" text-anchor="middle" font-size="6.75" fill="#3a3a3a">Nuclear mean</text>
<text x="544.20" y="288.80" text-anchor="middle" font-size="6.75" fill="#3a3a3a">intensity</text>
<text x="544.20" y="296.90" text-anchor="middle" font-size="6.75" fill="#3a3a3a">at nuclear activation</text>
<path d="M460.1,249.4 L468.5,249.4 L472.5,251.2 L476.5,253.1 L480.0,254.9 L483.5,256.6 L486.5,257.9 L488.6,259.0 L486.5,259.8 L483.0,260.8 L479.5,261.7 L476.0,262.6 L472.0,263.4 L468.5,264.1 L464.3,264.4 L460.1,264.2 L456.0,263.4 L452.0,262.6 L448.5,261.6 L445.0,260.6 L442.5,259.7 L440.5,258.9 L442.6,257.8 L445.0,256.5 L448.5,254.8 L452.0,253.1 L456.0,251.2 Z" fill="#5b5aa9" stroke="#2a2a2a" stroke-width="0.9" stroke-linejoin="round"/>
<line x1="464.30" y1="249.40" x2="464.30" y2="264.40" stroke="#1a1a1a" stroke-width="0.9"/>
<rect x="463.2" y="255" width="2.3" height="6" fill="#1a1a1a"/>
<circle cx="464.35" cy="258" r="0.85" fill="#fff"/>
<path d="M533.1,170.2 L553.6,170.2 L557.5,172.0 L560.5,174.0 L563.0,176.3 L564.9,178.7 L566.2,181.0 L567.0,183.3 L567.3,185.1 L567.0,187.5 L565.8,190.4 L563.5,193.6 L560.5,197.0 L557.0,200.5 L553.2,204.3 L550.3,207.3 L548.1,209.8 L546.8,211.6 L546.2,213.0 L545.9,214.4 L541.1,214.4 L540.8,213.0 L540.2,211.6 L538.9,209.8 L536.7,207.3 L533.8,204.3 L530.0,200.5 L526.5,197.0 L523.5,193.6 L521.2,190.4 L520.0,187.5 L519.7,185.1 L520.0,183.3 L520.8,181.0 L522.1,178.7 L524.0,176.3 L526.5,174.0 L529.5,172.0 Z" fill="#e9705d" stroke="#2a2a2a" stroke-width="0.9" stroke-linejoin="round"/>
<line x1="543.40" y1="170.20" x2="543.40" y2="214.40" stroke="#1a1a1a" stroke-width="0.9"/>
<rect x="542.3" y="179.6" width="2.2" height="14.7" fill="#1a1a1a"/>
<circle cx="543.4" cy="186.9" r="0.8" fill="#fff"/>
</svg>
</body></html>
